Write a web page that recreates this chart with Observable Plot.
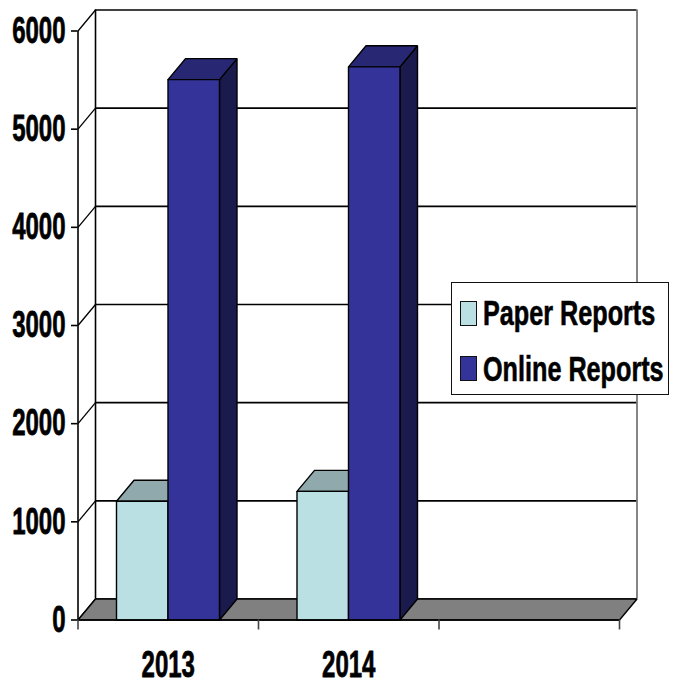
<!DOCTYPE html>
<html>
<head>
<meta charset="utf-8">
<script src="https://cdn.jsdelivr.net/npm/d3@7"></script>
<script src="https://cdn.jsdelivr.net/npm/@observablehq/plot@0.6"></script>
<style>
html,body{margin:0;padding:0;background:#fff}
#wrap{position:relative;width:675px;height:681px;overflow:hidden}
#legend{position:absolute;left:451px;top:282px;width:216px;height:111px;background:#fff;border:1.5px solid #111;font:bold 30px "Liberation Sans",sans-serif;color:#000}
#legend .sw{position:absolute;left:7.5px;width:15px;height:23px;border:1px solid #111}
#legend .lb{position:absolute;left:31px;white-space:nowrap;line-height:30px;transform:scale(.84,1.18);transform-origin:left center;-webkit-text-stroke:.5px #000}
</style>
</head>
<body>
<div id="wrap"><div id="legend"></div></div>
<script>
const years = ["2013", "2014", ""];
const paperReports = [1210, 1310];
const onlineReports = [5505, 5635];
const seriesNames = ["Paper Reports", "Online Reports"];
const seriesColors = ["#bae0e4", "#333399"];
const topColors = ["#8fa9ac", "#272773"];
const sideColors = ["#6b8285", "#1a1a4d"];
const yTicks = [0, 1000, 2000, 3000, 4000, 5000, 6000];
const floorColor = "#808080";

// 3D depth and bar layout, in scale units
const depthX = 0.097, depthY = 214;
const barGap = 0.2133, barWidth = 0.2853;
const xMax = years.length;

const faces = [];
function face(id, fill, pts) {
  pts.concat([pts[0]]).forEach(([x, y]) => faces.push({id, fill, x, y}));
}
face("floor", floorColor, [[0, 0], [depthX, depthY], [xMax + depthX, depthY], [xMax, 0]]);
[paperReports, onlineReports].forEach((vals, s) => {
  vals.forEach((v, i) => {
    const a = i + barGap + s * barWidth, b = a + barWidth, id = `${s}-${i}`;
    face(id + "side", sideColors[s], [[b, 0], [b + depthX, depthY], [b + depthX, v + depthY], [b, v]]);
    face(id + "top", topColors[s], [[a, v], [a + depthX, v + depthY], [b + depthX, v + depthY], [b, v]]);
    face(id + "front", seriesColors[s], [[a, 0], [b, 0], [b, v], [a, v]]);
  });
});

const FONT = '"Liberation Sans",sans-serif';
const yMax = yTicks[yTicks.length - 1];
const xTicks = d3.range(xMax + 1);
const labelStyle = {fontSize: 24, fontWeight: "bold", fontFamily: FONT, fill: "#000", stroke: "#000", strokeWidth: 0.5};

const chart = Plot.plot({
  width: 675,
  height: 681,
  marginLeft: 77.5,
  marginRight: 56,
  x: {domain: [0, xMax], range: [77.5, 619], axis: null},
  y: {domain: [0, yMax], range: [619.5, 30.5], axis: null},
  color: {type: "identity"},
  style: {background: "#fff", overflow: "visible"},
  marks: [
    // back wall gridlines
    Plot.ruleY(yTicks, {y: d => d + depthY, x1: depthX, x2: xMax + depthX, stroke: "#000", strokeWidth: 1.6}),
    // wall verticals
    Plot.ruleX([depthX], {y1: depthY, y2: yMax + depthY, stroke: "#000", strokeWidth: 1.6}),
    Plot.ruleX([xMax + depthX], {y1: depthY, y2: yMax + depthY, stroke: "#666", strokeWidth: 1.6}),
    // side-wall diagonals
    Plot.link(yTicks, {x1: 0, y1: d => d, x2: depthX, y2: d => d + depthY, stroke: "#000", strokeWidth: 1.3}),
    // floor and bars
    Plot.line(faces, {x: "x", y: "y", z: "id", fill: "fill", stroke: "#000", strokeWidth: 1.4, strokeLinejoin: "miter"}),
    // front axis
    Plot.ruleX([0], {y1: 0, y2: yMax, stroke: "#000", strokeWidth: 1.6}),
    Plot.ruleY([0], {x1: 0, x2: xMax, stroke: "#000", strokeWidth: 1.6}),
    Plot.ruleY(yTicks, {y: d => d, x1: 0, x2: 0, insetLeft: -6.5, stroke: "#000", strokeWidth: 1.6}),
    Plot.ruleX(xTicks, {x: d => d, y1: 0, y2: 0, insetBottom: -10, stroke: "#444", strokeWidth: 1.6}),
    // tick labels
    Plot.text(yTicks, {x: 0, y: d => d, text: d => String(d), textAnchor: "end", dx: -12.5, ...labelStyle}),
    Plot.text(years.filter(d => d), {x: (d, i) => i + 0.5, y: 0, text: d => d, dy: 45, ...labelStyle})
  ]
});

chart.querySelectorAll("text").forEach(t => {
  const tr = t.getAttribute("transform") || "";
  t.setAttribute("transform", tr + " scale(1,1.52)");
});

const wrap = document.getElementById("wrap");
wrap.insertBefore(chart, wrap.firstChild);
chart.style.display = "block";

const legend = d3.select("#legend");
seriesNames.forEach((name, i) => {
  legend.append("div").attr("class", "sw").style("top", (17.5 + i * 55.5) + "px").style("background", seriesColors[i]);
  legend.append("div").attr("class", "lb").style("top", (15 + i * 56) + "px").text(name);
});
</script>
</body>
</html>
